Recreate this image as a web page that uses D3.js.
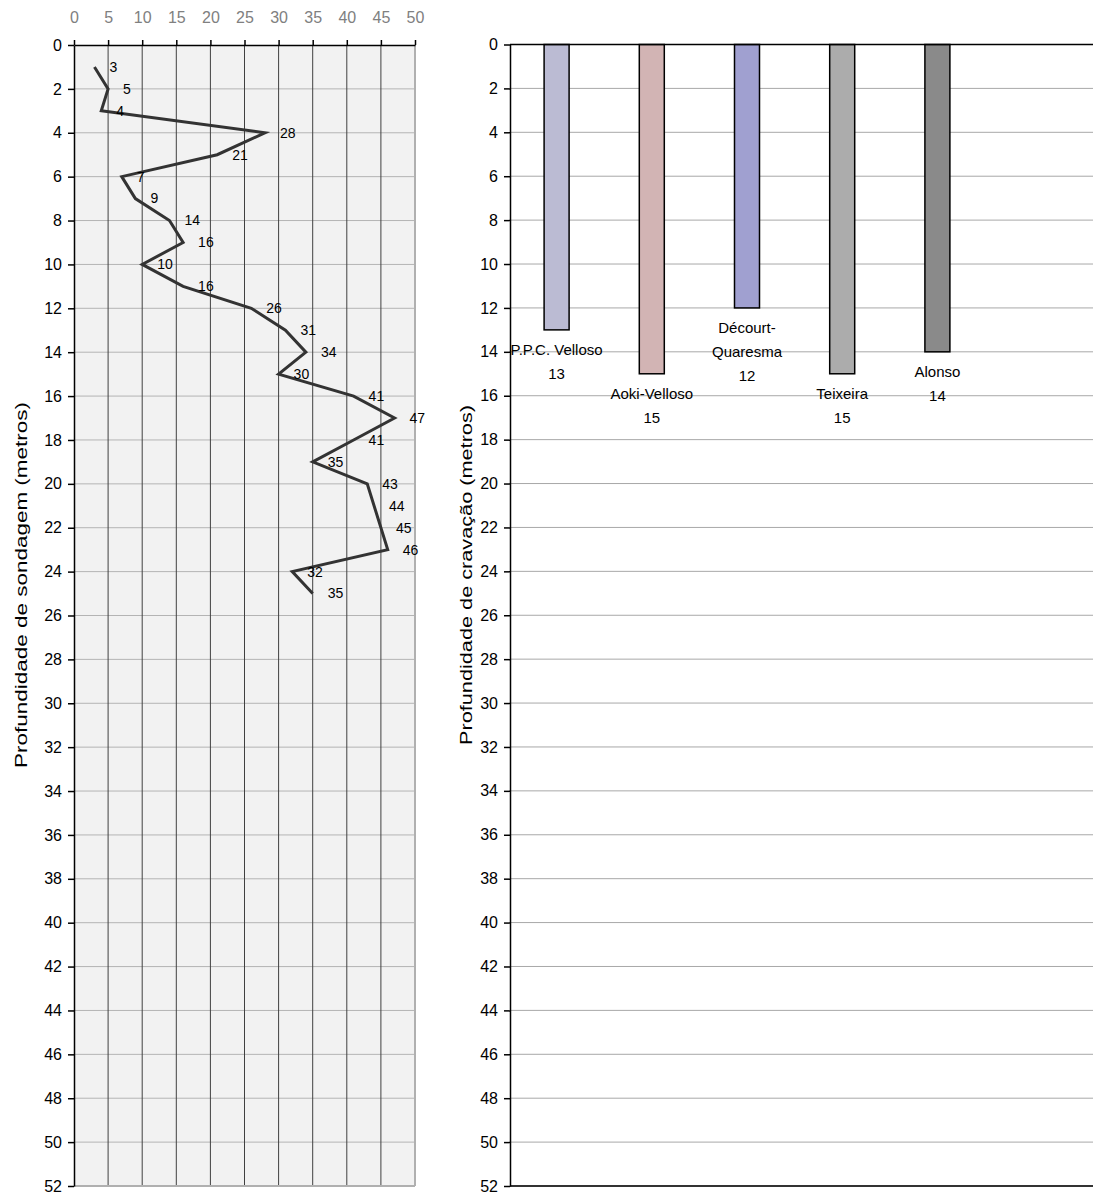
<!DOCTYPE html>
<html><head><meta charset="utf-8">
<script src="https://cdn.jsdelivr.net/npm/d3@7"></script>
<style>
body{margin:0;background:#fff;}
text{font-family:"Liberation Sans",Arial,sans-serif;}
</style></head>
<body>
<svg id="c" width="1093" height="1196"></svg>
<script>
const depths = [1,2,3,4,5,6,7,8,9,10,11,12,13,14,15,16,17,18,19,20,21,22,23,24,25];
const nspt = [3,5,4,28,21,7,9,14,16,10,16,26,31,34,30,41,47,41,35,43,44,45,46,32,35];
const xTicks = [0,5,10,15,20,25,30,35,40,45,50];
const yTicks = d3.range(0,53,2);
const methods = ["P.P.C. Velloso","Aoki-Velloso","Décourt-Quaresma","Teixeira","Alonso"];
const methodLines = [["P.P.C. Velloso"],["Aoki-Velloso"],["Décourt-","Quaresma"],["Teixeira"],["Alonso"]];
const pileDepth = [13,15,12,15,14];
const barColors = ["#bbbbd3","#d2b4b4","#a0a0d0","#acacac","#8a8a8a"];
const leftTitle = "Profundidade de sondagem (metros)";
const rightTitle = "Profundidade de cravação (metros)";

const svg = d3.select("#c");
const plotTop = 45, plotBottom = 1186;
const FF = "Liberation Sans, Arial, sans-serif";

// ---------- Left chart ----------
const xL = d3.scaleLinear().domain([0,50]).range([74,415]);
const yL = d3.scaleLinear().domain([0,52]).range([plotTop,plotBottom]);
const gL = svg.append("g");
gL.append("rect").attr("x",xL(0)).attr("y",yL(0)).attr("width",xL(50)-xL(0)).attr("height",yL(52)-yL(0)).attr("fill","#f2f2f2");
gL.selectAll(".hg").data(yTicks.filter(d=>d>0&&d<52)).join("line")
  .attr("x1",xL(0)).attr("x2",xL(50)).attr("y1",d=>yL(d)).attr("y2",d=>yL(d))
  .attr("stroke","#b4b4b4").attr("stroke-width",1);
gL.selectAll(".vg").data(xTicks.filter(d=>d>0&&d<50)).join("line")
  .attr("x1",d=>xL(d)).attr("x2",d=>xL(d)).attr("y1",yL(0)).attr("y2",yL(52))
  .attr("stroke","#404040").attr("stroke-width",1);
gL.append("line").attr("x1",xL(50)).attr("x2",xL(50)).attr("y1",yL(0)).attr("y2",yL(52)).attr("stroke","#b0b0b0").attr("stroke-width",2);
gL.append("line").attr("x1",xL(0)).attr("x2",xL(50)).attr("y1",yL(52)).attr("y2",yL(52)).attr("stroke","#b0b0b0").attr("stroke-width",2);
const ax = gL.append("g").attr("transform",`translate(0,${yL(0)})`).call(d3.axisTop(xL).tickValues(xTicks).tickSize(5).tickPadding(17).tickSizeOuter(0));
ax.select(".domain").attr("stroke","#000").attr("stroke-width",1.5);
ax.selectAll(".tick line").attr("stroke","#000").attr("stroke-width",1.5);
ax.selectAll("text").attr("fill","#808080").style("font-size","16px").style("font-family",FF);
const ay = gL.append("g").attr("transform",`translate(${xL(0)},0)`).call(d3.axisLeft(yL).tickValues(yTicks).tickSize(6).tickPadding(6).tickSizeOuter(0));
ay.select(".domain").attr("stroke","#000").attr("stroke-width",1.5);
ay.selectAll(".tick line").attr("stroke","#000").attr("stroke-width",1.5);
ay.selectAll("text").attr("fill","#000").style("font-size","16px").style("font-family",FF);
const pts = depths.map((d,i)=>({d, v:nspt[i]}));
const linePts = pts.filter(p=>p.d!==21 && p.d!==22);
gL.append("path").datum(linePts)
  .attr("d", d3.line().x(p=>xL(p.v)).y(p=>yL(p.d)))
  .attr("fill","none").attr("stroke","#333").attr("stroke-width",3).attr("stroke-linejoin","miter");
gL.selectAll(".lbl").data(pts).join("text")
  .attr("x",p=>xL(p.v)+15).attr("y",p=>yL(p.d)).attr("dy","0.35em")
  .attr("fill","#000").style("font-size","14px").text(p=>p.v);
gL.append("text").attr("transform",`translate(27,585) rotate(-90)`).attr("text-anchor","middle")
  .style("font-size","16px").attr("fill","#000")
  .attr("textLength",366).attr("lengthAdjust","spacingAndGlyphs").text(leftTitle);

// ---------- Right chart ----------
const xR = d3.scaleBand().domain(methods).range([509,985]);
const yR = d3.scaleLinear().domain([0,52]).range([44.5,1186]);
const gR = svg.append("g");
gR.selectAll(".hg").data(yTicks.filter(d=>d>0&&d<52)).join("line")
  .attr("x1",510).attr("x2",1093).attr("y1",d=>yR(d)).attr("y2",d=>yR(d))
  .attr("stroke","#a8a8a8").attr("stroke-width",1);
gR.append("line").attr("x1",510).attr("x2",1093).attr("y1",yR(52)).attr("y2",yR(52)).attr("stroke","#333").attr("stroke-width",2);
const bw = 25;
gR.selectAll(".bar").data(methods).join("rect")
  .attr("x",m=>xR(m)+xR.bandwidth()/2-bw/2).attr("y",yR(0))
  .attr("width",bw).attr("height",(m,i)=>yR(pileDepth[i])-yR(0))
  .attr("fill",(m,i)=>barColors[i]).attr("stroke","#000").attr("stroke-width",1.5);
gR.append("line").attr("x1",510).attr("x2",1093).attr("y1",yR(0)).attr("y2",yR(0)).attr("stroke","#000").attr("stroke-width",1.5);
const ayR = gR.append("g").attr("transform",`translate(510,0)`).call(d3.axisLeft(yR).tickValues(yTicks).tickSize(6).tickPadding(6).tickSizeOuter(0));
ayR.select(".domain").attr("stroke","#000").attr("stroke-width",1.5);
ayR.selectAll(".tick line").attr("stroke","#000").attr("stroke-width",1.5);
ayR.selectAll("text").attr("fill","#000").style("font-size","16px").style("font-family",FF);
methods.forEach((m,i)=>{
  const cx = xR(m)+xR.bandwidth()/2;
  const y0 = yR(pileDepth[i]);
  const lines = methodLines[i].concat([String(pileDepth[i])]);
  lines.forEach((t,j)=>{
    gR.append("text").attr("x",cx).attr("y",y0+20+j*24).attr("dy","0.35em")
      .attr("text-anchor","middle").style("font-size","15px").attr("fill","#000").text(t);
  });
});
gR.append("text").attr("transform",`translate(472,575) rotate(-90)`).attr("text-anchor","middle")
  .style("font-size","16px").attr("fill","#000")
  .attr("textLength",340).attr("lengthAdjust","spacingAndGlyphs").text(rightTitle);
</script>
</body></html>
